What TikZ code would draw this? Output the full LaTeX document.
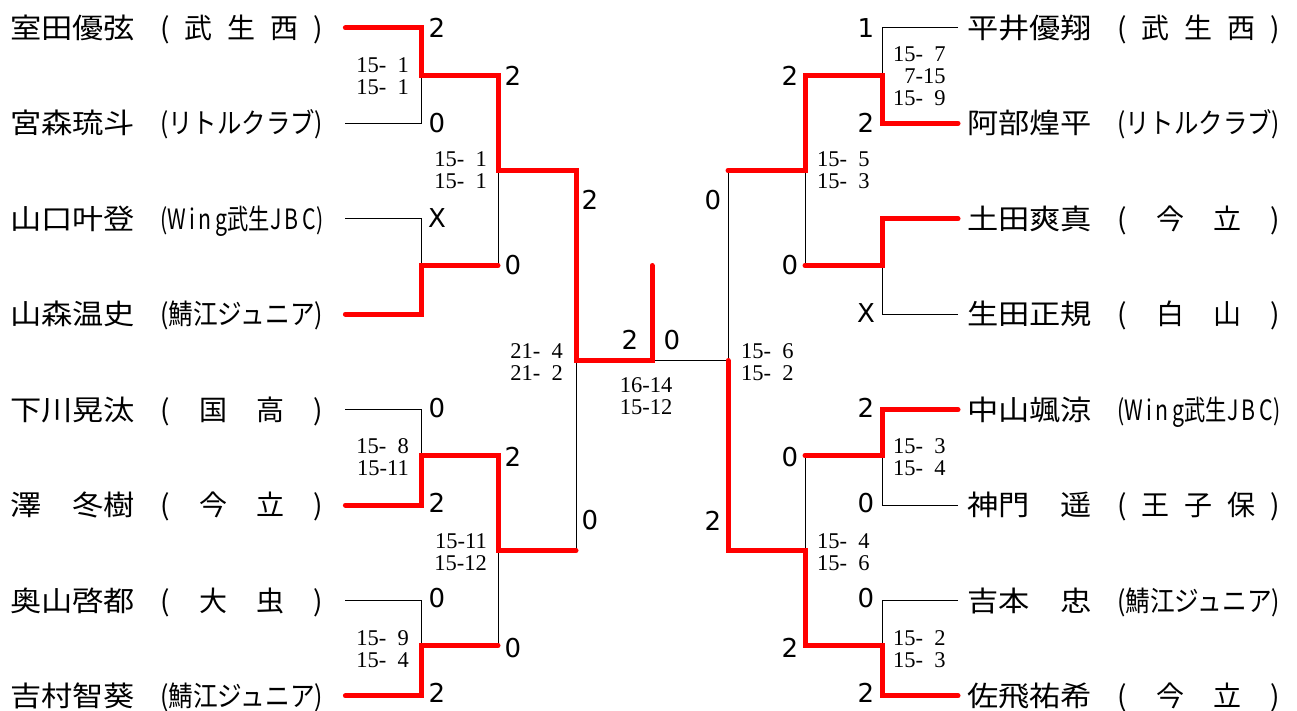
\documentclass[tikz,border=0pt]{standalone}
\usepackage{fontspec}
\usepackage{graphicx}
\usetikzlibrary{positioning}

\newfontfamily\jpfont{Noto Sans CJK JP}
\newfontfamily\numfont{DejaVu Sans}
\newfontfamily\gamefont{Liberation Serif}

\newcommand{\pname}[1]{\resizebox{125pt}{\height}{#1}}
\newcommand{\pclub}[1]{\resizebox{163pt}{\height}{#1}}
\newcommand{\pclubsp}[1]{\makebox[163pt][s]{#1}}
\newcommand{\digsp}{\phantom{0}}

\begin{document}
\begin{tikzpicture}[
    x=1pt, y=-1pt,
    node distance=67pt,
    player/.style={inner sep=0pt, anchor=west, text height=24.6pt, text depth=3.4pt, font=\jpfont\fontsize{28}{28}\selectfont},
    point/.style={inner sep=0pt, font=\numfont\fontsize{26}{26}\selectfont},
    games/.style={inner sep=0pt, align=right, font=\gamefont\fontsize{22.5}{22}\selectfont},
    win/.style={line width=5pt, red, line cap=round},
    lose/.style={line width=1pt, black},
]
\useasboundingbox (0,0) rectangle (1297,711);

% Players — left half
\node[player] (p1) at (10,28) {\pname{室田優弦}\hspace{25pt}\pclubsp{(\hfill 武\hfill 生\hfill 西\hfill)}};
\node[player, below=of p1] (p2) {\pname{宮森琉斗}\hspace{25pt}\pclub{(リトルクラブ)}};
\node[player, below=of p2] (p3) {\pname{山口叶登}\hspace{25pt}\pclub{(W\,i\,n\,g武生J\,B\,C)}};
\node[player, below=of p3] (p4) {\pname{山森温史}\hspace{25pt}\pclub{(鯖江ジュニア)}};
\node[player, below=of p4] (p5) {\pname{下川晃汰}\hspace{25pt}\pclubsp{(\hfill 国\hfill 高\hfill)}};
\node[player, below=of p5] (p6) {\pname{澤　冬樹}\hspace{25pt}\pclubsp{(\hfill 今\hfill 立\hfill)}};
\node[player, below=of p6] (p7) {\pname{奥山啓都}\hspace{25pt}\pclubsp{(\hfill 大\hfill 虫\hfill)}};
\node[player, below=of p7] (p8) {\pname{吉村智葵}\hspace{25pt}\pclub{(鯖江ジュニア)}};

% Players — right half
\node[player] (p9) at (967,28) {\pname{平井優翔}\hspace{25pt}\pclubsp{(\hfill 武\hfill 生\hfill 西\hfill)}};
\node[player, below=of p9] (p10) {\pname{阿部煌平}\hspace{25pt}\pclub{(リトルクラブ)}};
\node[player, below=of p10] (p11) {\pname{土田爽真}\hspace{25pt}\pclubsp{(\hfill 今\hfill 立\hfill)}};
\node[player, below=of p11] (p12) {\pname{生田正規}\hspace{25pt}\pclubsp{(\hfill 白\hfill 山\hfill)}};
\node[player, below=of p12] (p13) {\pname{中山颯涼}\hspace{25pt}\pclub{(W\,i\,n\,g武生J\,B\,C)}};
\node[player, below=of p13] (p14) {\pname{神門　遥}\hspace{25pt}\pclubsp{(\hfill 王\hfill 子\hfill 保\hfill)}};
\node[player, below=of p14] (p15) {\pname{吉本　忠}\hspace{25pt}\pclub{(鯖江ジュニア)}};
\node[player, below=of p15] (p16) {\pname{佐飛祐希}\hspace{25pt}\pclubsp{(\hfill 今\hfill 立\hfill)}};

% Bracket joints
\coordinate (m1) at (421,75.5);
\coordinate (m2) at (421,265.5);
\coordinate (m3) at (421,455.5);
\coordinate (m4) at (421,645.5);
\coordinate (q1) at (498,170.5);
\coordinate (q2) at (498,550.5);
\coordinate (s1) at (576,360.5);
\coordinate (f1) at (652,360.5);
\coordinate (top) at (652,265.5);
\coordinate (n1) at (882,75.5);
\coordinate (n2) at (882,265.5);
\coordinate (n3) at (882,455.5);
\coordinate (n4) at (882,645.5);
\coordinate (r1) at (805,170.5);
\coordinate (r2) at (805,550.5);
\coordinate (s2) at (728,360.5);

% Lines — losers
\draw[lose] ([xshift=22pt]p2.east) -| (m1);
\draw[lose] ([xshift=22pt]p3.east) -| (m2);
\draw[lose] (m2) -| (q1);
\draw[lose] ([xshift=22pt]p5.east) -| (m3);
\draw[lose] ([xshift=22pt]p7.east) -| (m4);
\draw[lose] (m4) -| (q2);
\draw[lose] (q2) -| (s1);
\draw[lose] (f1) -- (s2);
\draw[lose] ([xshift=-9pt]p9.west) -| (n1);
\draw[lose] ([xshift=-9pt]p12.west) -| (n2);
\draw[lose] (n2) -| (r1);
\draw[lose] (r1) -| (s2);
\draw[lose] ([xshift=-9pt]p14.west) -| (n3);
\draw[lose] (n3) -| (r2);
\draw[lose] ([xshift=-9pt]p15.west) -| (n4);

% Lines — winners
\draw[win] ([xshift=22pt]p1.east) -| (m1) -| (q1) -| (s1) -- (f1) -- (top);
\draw[win] ([xshift=22pt]p4.east) -| (m2) -- (m2 -| q1);
\draw[win] ([xshift=22pt]p6.east) -| (m3) -| (q2) -- (q2 -| s1);
\draw[win] ([xshift=22pt]p8.east) -| (m4) -- (m4 -| q2);
\draw[win] ([xshift=-9pt]p10.west) -| (n1) -| (r1) -- (r1 -| s2);
\draw[win] ([xshift=-9pt]p11.west) -| (n2) -- (n2 -| r1);
\draw[win] ([xshift=-9pt]p13.west) -| (n3) -- (n3 -| r2);
\draw[win] ([xshift=-9pt]p16.west) -| (n4) -| (r2) -| (s2);

% Points — left
\node[point] (a1) at (437,28) {2};
\node[point] (a2) at (437,123) {0};
\node[point] (a3) at (437,218) {X};
\node[point] (a5) at (437,408) {0};
\node[point] (a6) at (437,503) {2};
\node[point] (a7) at (437,598) {0};
\node[point] (a8) at (437,693) {2};
\node[point] (b1) at (513,76) {2};
\node[point] (b2) at (513,265) {0};
\node[point] (b3) at (513,457) {2};
\node[point] (b4) at (513,648) {0};
\node[point] (c1) at (590,200) {2};
\node[point] (c2) at (590,520) {0};
\node[point] (fl) at (630,340) {2};

% Points — right
\node[point] (fr) at (672,340) {0};
\node[point] (d1) at (713,200) {0};
\node[point] (d2) at (713,521) {2};
\node[point] (e1) at (790,76) {2};
\node[point] (e2) at (790,265) {0};
\node[point] (e3) at (790,457) {0};
\node[point] (e4) at (790,648) {2};
\node[point] (h1) at (866,28) {1};
\node[point] (h2) at (866,123) {2};
\node[point] (h4) at (866,313) {X};
\node[point] (h5) at (866,408) {2};
\node[point] (h6) at (866,503) {0};
\node[point] (h7) at (866,598) {0};
\node[point] (h8) at (866,693) {2};

% Game scores
\node[games, anchor=east] (g1) at (409,76) {15-\digsp1\\15-\digsp1};
\node[games, anchor=east] (g2) at (487,170) {15-\digsp1\\15-\digsp1};
\node[games, anchor=east] (g3) at (409,457) {15-\digsp8\\15-11};
\node[games, anchor=east] (g4) at (487,552) {15-11\\15-12};
\node[games, anchor=east] (g5) at (409,649) {15-\digsp9\\15-\digsp4};
\node[games, anchor=east] (g6) at (563,362) {21-\digsp4\\21-\digsp2};
\node[games] (g7) at (646,396) {16-14\\15-12};
\node[games, anchor=west] (g8) at (893,76) {15-\digsp7\\\digsp7-15\\15-\digsp9};
\node[games, anchor=west] (g9) at (817,170) {15-\digsp5\\15-\digsp3};
\node[games, anchor=west] (g10) at (741,362) {15-\digsp6\\15-\digsp2};
\node[games, anchor=west] (g11) at (893,457) {15-\digsp3\\15-\digsp4};
\node[games, anchor=west] (g12) at (817,552) {15-\digsp4\\15-\digsp6};
\node[games, anchor=west] (g13) at (893,649) {15-\digsp2\\15-\digsp3};

\end{tikzpicture}
\end{document}
